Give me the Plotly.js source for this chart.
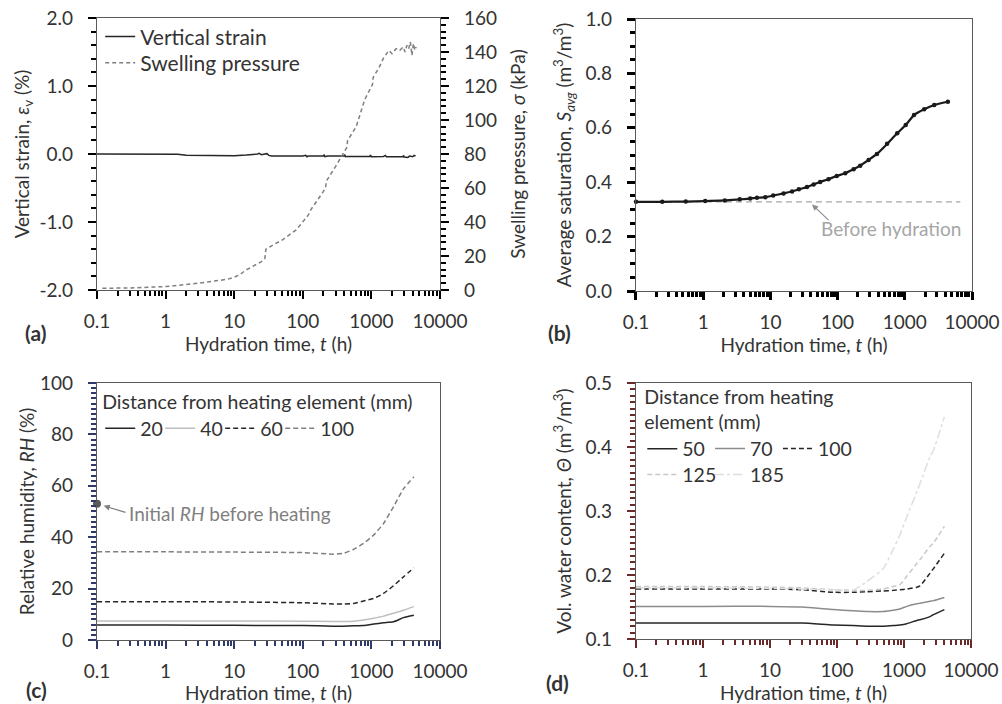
<!DOCTYPE html>
<html>
<head>
<meta charset="utf-8">
<script src="https://cdn.plot.ly/plotly-3.0.1.min.js"></script>
<style>html,body{margin:0;padding:0;background:#fff;}#chart{width:1002px;height:704px;}</style>
</head>
<body>
<div id="chart"></div>
<script>
// ---------- DATA ----------
const tStrain = [0.1, 1, 1.5, 2, 5, 10, 15, 20, 22, 23, 25, 28, 30, 32, 35, 100, 110, 115, 120, 200, 205, 210, 230, 400, 410, 420, 450, 950, 970, 1000, 1500, 1600, 1650, 2900, 2950, 3000, 3400, 3600, 4000, 4200, 4400];
const strain = [0, 0, -0.005, -0.02, -0.025, -0.025, -0.015, -0.01, 0.0, 0.01, -0.01, 0.0, 0.005, -0.02, -0.03, -0.03, -0.02, -0.04, -0.03, -0.03, -0.01, -0.04, -0.03, -0.03, -0.01, -0.04, -0.035, -0.035, -0.015, -0.04, -0.035, -0.02, -0.04, -0.04, -0.02, -0.045, -0.05, -0.03, -0.04, -0.02, -0.03];
const tPress = [0.12, 0.3, 1, 2, 3, 5, 8, 10, 12, 15, 20, 25, 28, 29, 35, 50, 80, 100, 120, 130, 160, 200, 215, 220, 300, 400, 440, 450, 600, 800, 1000, 1040, 1060, 1300, 1500, 1800, 2000, 2300, 2600, 2900, 3100, 3300, 3500, 3700, 3900, 4100, 4300, 4500];
const pressure = [1, 1.2, 2, 3, 4, 5.2, 6.3, 7.5, 9, 11.8, 14.5, 16.7, 18.6, 24, 26, 29.4, 35.3, 40, 44, 47, 52, 58, 60, 64, 72.6, 81.5, 84, 88, 96, 112, 120, 121, 125, 131, 136.4, 141, 139, 142, 141, 143, 140, 144, 142, 146, 138, 145, 141, 143];
const tSat = [0.1, 0.246, 0.55, 1.07, 2.1, 3.5, 5, 6.3, 8.4, 11, 15.7, 21, 26.5, 35, 44, 55, 73, 97, 130, 173, 217, 289, 385, 545, 770, 1030, 1370, 1940, 2740, 4370];
const sat = [0.328, 0.328, 0.329, 0.331, 0.333, 0.337, 0.340, 0.343, 0.345, 0.351, 0.359, 0.366, 0.374, 0.382, 0.392, 0.401, 0.411, 0.423, 0.433, 0.448, 0.461, 0.482, 0.504, 0.541, 0.580, 0.610, 0.647, 0.668, 0.684, 0.696];
const tBefore = [0.1, 6700];
const satBefore = [0.328, 0.328];
const tRH = [0.1, 1, 10, 100, 280, 390, 545, 770, 1080, 1500, 2100, 2950, 4160];
const rh20 = [5.8, 5.8, 5.7, 5.6, 5.4, 5.4, 5.5, 5.6, 6.2, 6.7, 7.1, 8.7, 9.6];
const rh40 = [7.4, 7.4, 7.4, 7.3, 7.2, 7.2, 7.3, 7.8, 8.5, 9.3, 10.4, 11.6, 13.0];
const rh60 = [14.9, 14.9, 14.8, 14.5, 14.0, 14.0, 14.2, 15.2, 16.2, 18.1, 21.1, 24.6, 28.1];
const rh100 = [34.3, 34.3, 34.2, 34.0, 33.4, 33.7, 35.2, 37.6, 40.8, 45.3, 51.8, 58.9, 63.5];
const tInitRH = [0.1];
const initRH = [53];
const tVWC = [0.1, 1, 10, 30, 88, 173, 280, 490, 690, 870, 1100, 1550, 1730, 2450, 2750, 4000];
const vwc50 = [0.125, 0.125, 0.125, 0.125, 0.122, 0.121, 0.120, 0.120, 0.121, 0.122, 0.124, 0.129, 0.130, 0.135, 0.138, 0.146];
const vwc70 = [0.151, 0.151, 0.151, 0.150, 0.146, 0.144, 0.143, 0.143, 0.145, 0.147, 0.151, 0.155, 0.156, 0.159, 0.160, 0.165];
const vwc100 = [0.178, 0.178, 0.178, 0.177, 0.173, 0.173, 0.174, 0.175, 0.176, 0.177, 0.178, 0.181, 0.183, 0.203, 0.210, 0.234];
const vwc125 = [0.182, 0.182, 0.181, 0.180, 0.177, 0.176, 0.176, 0.178, 0.182, 0.185, 0.198, 0.218, 0.224, 0.245, 0.250, 0.276];
const vwc185 = [0.180, 0.180, 0.179, 0.178, 0.177, 0.176, 0.190, 0.210, 0.240, 0.263, 0.291, 0.330, 0.343, 0.385, 0.395, 0.447];
const xTickVals = [0.1, 1, 10, 100, 1000, 10000];
const xTickText = ['0.1', '1', '10', '100', '1000', '10000'];
const strainTickVals = [-2, -1, 0, 1, 2];
const strainTickText = ['-2.0', '-1.0', '0.0', '1.0', '2.0'];

// ---------- STYLE ----------
const FONT = 'Lato, "Open Sans", sans-serif';
const TXT = '#333333';
const AX = '#595959';
const minorLog = [];
for (let e = -1; e < 4; e++) for (let m = 2; m <= 9; m++) minorLog.push(m * Math.pow(10, e));

function xAxis(domain, anchor, tk, tw) {
  return {
    domain: domain, anchor: anchor, type: 'log', range: [-1, 4],
    tickmode: 'array', tickvals: xTickVals, ticktext: xTickText,
    ticks: 'outside', ticklen: 8, tickwidth: tw, tickcolor: tk,
    minor: {tickmode: 'array', tickvals: minorLog, ticks: 'outside', ticklen: 5, tickwidth: tw, tickcolor: tk, showgrid: false},
    showline: true, linecolor: AX, linewidth: 1.3, mirror: true,
    showgrid: false, zeroline: false, automargin: false,
    ticklabelstandoff: 6,
    tickfont: {family: FONT, size: 19, color: TXT},
    title: {text: 'Hydration time, <i>t</i> (h)', font: {family: FONT, size: 19, color: TXT}, standoff: 5}
  };
}
function yAxis(domain, anchor, range, dtick, mdtick, fmt, title, standoff, tk, tw, opt) {
  return Object.assign({
    domain: domain, anchor: anchor, range: range,
    tickmode: 'linear', tick0: range[0], dtick: dtick, tickformat: fmt,
    ticks: 'outside', ticklen: 8, tickwidth: tw, tickcolor: tk,
    minor: {dtick: mdtick, ticks: 'outside', ticklen: 5, tickwidth: tw, tickcolor: tk, showgrid: false},
    showline: true, linecolor: AX, linewidth: 1.3, mirror: true,
    showgrid: false, zeroline: false, automargin: false,
    ticklabelstandoff: 11,
    tickfont: {family: FONT, size: 19, color: TXT},
    title: {text: title, font: {family: FONT, size: 19, color: TXT}, standoff: standoff}
  }, opt || {});
}

const traces = [
  {x: tStrain, y: strain, xaxis: 'x', yaxis: 'y', mode: 'lines', name: 'Vertical strain',
   line: {color: '#262626', width: 1.5}, legend: 'legend'},
  {x: tPress, y: pressure, xaxis: 'x', yaxis: 'y2', mode: 'lines', name: 'Swelling pressure',
   line: {color: '#7f7f7f', width: 1.5, dash: '4px,3px'}, legend: 'legend6'},
  {x: tBefore, y: satBefore, xaxis: 'x2', yaxis: 'y3', mode: 'lines', name: 'Before hydration',
   line: {color: '#a6a6a6', width: 1.3, dash: '6px,4px'}, showlegend: false},
  {x: tSat, y: sat, xaxis: 'x2', yaxis: 'y3', mode: 'lines+markers', name: 'Average saturation',
   line: {color: '#1a1a1a', width: 2.2, shape: 'spline', smoothing: 0.6}, marker: {color: '#1a1a1a', size: 4.5},
   showlegend: false, cliponaxis: false},
  {x: tRH, y: rh20, xaxis: 'x3', yaxis: 'y4', mode: 'lines', name: '20',
   line: {color: '#262626', width: 1.5, shape: 'spline', smoothing: 0.5}, legend: 'legend2'},
  {x: tRH, y: rh40, xaxis: 'x3', yaxis: 'y4', mode: 'lines', name: '40',
   line: {color: '#bfbfbf', width: 1.5, shape: 'spline', smoothing: 0.5}, legend: 'legend2'},
  {x: tRH, y: rh60, xaxis: 'x3', yaxis: 'y4', mode: 'lines', name: '60',
   line: {color: '#262626', width: 1.5, dash: '5px,3px', shape: 'spline', smoothing: 0.5}, legend: 'legend2'},
  {x: tRH, y: rh100, xaxis: 'x3', yaxis: 'y4', mode: 'lines', name: '100',
   line: {color: '#7f7f7f', width: 1.5, dash: '5px,3px', shape: 'spline', smoothing: 0.5}, legend: 'legend2'},
  {x: tInitRH, y: initRH, xaxis: 'x3', yaxis: 'y4', mode: 'markers', name: 'Initial RH before heating',
   marker: {color: '#595959', size: 8}, showlegend: false, cliponaxis: false},
  {x: tVWC, y: vwc50, xaxis: 'x4', yaxis: 'y5', mode: 'lines', name: '50',
   line: {color: '#262626', width: 1.5, shape: 'spline', smoothing: 0.5}, legend: 'legend3'},
  {x: tVWC, y: vwc70, xaxis: 'x4', yaxis: 'y5', mode: 'lines', name: '70',
   line: {color: '#8c8c8c', width: 1.5, shape: 'spline', smoothing: 0.5}, legend: 'legend4'},
  {x: tVWC, y: vwc100, xaxis: 'x4', yaxis: 'y5', mode: 'lines', name: '100',
   line: {color: '#262626', width: 1.5, dash: '5px,3px', shape: 'spline', smoothing: 0.5}, legend: 'legend5'},
  {x: tVWC, y: vwc125, xaxis: 'x4', yaxis: 'y5', mode: 'lines', name: '125',
   line: {color: '#c8c8c8', width: 1.5, dash: '5px,3px', shape: 'spline', smoothing: 0.5}, legend: 'legend7'},
  {x: tVWC, y: vwc185, xaxis: 'x4', yaxis: 'y5', mode: 'lines', name: '185',
   line: {color: '#dedede', width: 1.5, dash: 'dashdot', shape: 'spline', smoothing: 0.5}, legend: 'legend8'}
];

const legFontA = {family: FONT, size: 21, color: TXT};
const legFont = {family: FONT, size: 19.5, color: TXT};
const baseLeg = {xanchor: 'left', yanchor: 'top', bgcolor: 'rgba(0,0,0,0)', borderwidth: 0, font: legFont};
const ann = (text, x, y, size, color) => ({text: text, xref: 'paper', yref: 'paper', x: x, y: y,
  xanchor: 'center', yanchor: 'middle', showarrow: false, font: {family: FONT, size: size, color: color}});

const layout = {
  width: 1002, height: 704,
  margin: {l: 0, r: 0, t: 0, b: 0},
  paper_bgcolor: '#ffffff', plot_bgcolor: 'rgba(0,0,0,0)',
  font: {family: FONT, color: TXT},
  showlegend: true,
  xaxis: xAxis([0.0968, 0.4391], 'y', 'black', 2),
  yaxis: yAxis([0.5881, 0.9744], 'x', [-2, 2], 1, 0.2, '.1f', 'Vertical strain, <i>ε</i><sub>v</sub> (%)', 4, 'black', 2,
    {tickmode: 'array', tickvals: strainTickVals, ticktext: strainTickText}),
  yaxis2: yAxis([0.5881, 0.9744], 'x', [0, 160], 20, 4, 'd', 'Swelling pressure, <i>σ</i> (kPa)', 15, 'black', 2,
    {overlaying: 'y', side: 'right', mirror: false}),
  xaxis2: xAxis([0.6347, 0.9701], 'y3', '#000000', 3),
  yaxis3: yAxis([0.5866, 0.9730], 'x2', [0, 1], 0.2, 0.05, '.1f', 'Average saturation, <i>S</i><sub><i>avg</i></sub> (m<sup>3</sup>/m<sup>3</sup>)', 8, '#000000', 3),
  xaxis3: xAxis([0.0968, 0.4391], 'y4', '#2f3a6b', 2),
  yaxis4: yAxis([0.0909, 0.4560], 'x3', [0, 100], 20, 2, 'd', 'Relative humidity, <i>RH</i> (%)', 0, '#2f3a6b', 2),
  xaxis4: xAxis([0.6347, 0.9691], 'y5', '#6b2a2a', 2),
  yaxis5: yAxis([0.0923, 0.4560], 'x4', [0.1, 0.5], 0.1, 0.01, '.1f', 'Vol. water content, <i>Θ</i> (m<sup>3</sup>/m<sup>3</sup>)', 8, '#6b2a2a', 2),
  legend: Object.assign({}, baseLeg, {x: 0.1, y: 0.9766, font: legFontA}),
  legend6: Object.assign({}, baseLeg, {x: 0.1, y: 0.9396, font: legFontA}),
  legend2: Object.assign({}, baseLeg, {x: 0.1, y: 0.455, orientation: 'h', entrywidth: 15,
    title: {text: 'Distance from heating element (mm)', side: 'top', font: legFont}}),
  legend3: Object.assign({}, baseLeg, {x: 0.641, y: 0.462,
    title: {text: 'Distance from heating<br>element (mm)', side: 'top', font: legFont}}),
  legend4: Object.assign({}, baseLeg, {x: 0.7086, y: 0.390}),
  legend5: Object.assign({}, baseLeg, {x: 0.7764, y: 0.390}),
  legend7: Object.assign({}, baseLeg, {x: 0.641, y: 0.3531}),
  legend8: Object.assign({}, baseLeg, {x: 0.7086, y: 0.3531}),
  annotations: [
    ann('<b>(a)</b>', 0.035, 0.527, 21, TXT),
    ann('<b>(b)</b>', 0.558, 0.527, 21, TXT),
    ann('<b>(c)</b>', 0.036, 0.02, 21, TXT),
    ann('<b>(d)</b>', 0.556, 0.03, 21, TXT),
    ann('Before hydration', 0.889, 0.676, 19, '#a6a6a6'),
    {text: '', xref: 'x2', yref: 'y3', x: 1.62, y: 0.318, showarrow: true, ax: 18, ay: 17,
     arrowhead: 2, arrowsize: 1, arrowwidth: 1.2, arrowcolor: '#8c8c8c', standoff: 0},
    Object.assign(ann('Initial <i>RH</i> before heating', 0.1267, 0.2713, 19, '#7f7f7f'), {xanchor: 'left'}),
    {text: '', xref: 'x3', yref: 'y4', x: -1, y: 53, showarrow: true, ax: 30, ay: 9,
     arrowhead: 2, arrowsize: 1, arrowwidth: 1.2, arrowcolor: '#7f7f7f', standoff: 7}
  ]
};

Plotly.newPlot('chart', traces, layout, {displayModeBar: false});
</script>
</body>
</html>
